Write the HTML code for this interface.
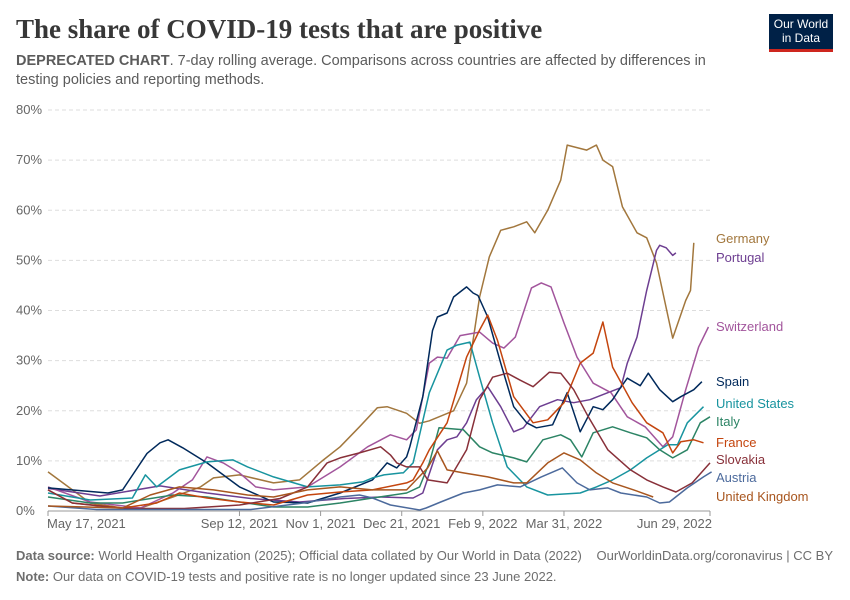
<!DOCTYPE html>
<html><head><meta charset="utf-8"><style>
body{margin:0;background:#fff;font-family:"Liberation Sans",sans-serif;}
#wrap{position:relative;width:850px;height:600px;overflow:hidden;}
.t{position:absolute;}
</style></head><body>
<div id="wrap">
<div class="t" style="left:16px;top:14px;font-family:'Liberation Serif',serif;font-size:27px;color:#373737;font-weight:bold;">The share of COVID-19 tests that are positive</div>
<div class="t" style="left:16px;top:52px;width:720px;font-size:14.5px;line-height:19px;color:#5b5b5b;"><b>DEPRECATED CHART</b>. 7-day rolling average. Comparisons across countries are affected by differences in testing policies and reporting methods.</div>
<div class="t" style="left:769px;top:14px;width:64px;height:38px;background:#002147;border-bottom:3px solid #ce261e;color:#fff;font-size:12px;line-height:14px;text-align:center;padding-top:3px;box-sizing:border-box;">Our World<br>in Data</div>
<svg id="chart" width="850" height="600" style="position:absolute;left:0;top:0"></svg>
<div class="t" style="left:16px;top:548px;font-size:13px;color:#6e6e6e;"><b>Data source:</b> World Health Organization (2025); Official data collated by Our World in Data (2022)</div>
<div class="t" style="right:17px;top:548px;font-size:13px;color:#6e6e6e;">OurWorldinData.org/coronavirus | CC BY</div>
<div class="t" style="left:16px;top:569px;font-size:13px;color:#6e6e6e;"><b>Note:</b> Our data on COVID-19 tests and positive rate is no longer updated since 23 June 2022.</div>
</div>
<script>
const yTicks=[0,10,20,30,40,50,60,70,80];
const xTickDays=[0,118,168,218,268,318,408];
const xTickLabels=["May 17, 2021","Sep 12, 2021","Nov 1, 2021","Dec 21, 2021","Feb 9, 2022","Mar 31, 2022","Jun 29, 2022"];
const countries=["Germany","Portugal","Switzerland","Spain","United States","Italy","France","Slovakia","Austria","United Kingdom"];
const colors=["#a2773d","#6d3e91","#a2559c","#00295b","#18949f","#2c8465","#c4450e","#883039","#4c6a9c","#a8561f"];
const labelY=[239,258,327,382,404,422,443,460,478,497];
const germanyDays=[0,26,46,57,77,94,102,118,139,155,169,180,192,203,209,221,229,235,250,258,266,272,279,287,295,300,308,316,320,332,338,342,348,354,363,369,375,385,393,396,398];
const germanyVals=[7.8,1.6,0.6,0.6,2.8,4.8,6.6,7.2,5.6,6.2,10,12.8,16.8,20.6,20.8,19.5,17.5,18,20,25.5,42.7,50.7,56,56.7,57.7,55.5,60,66,73,72,73,70,68.7,60.7,55.5,54.5,49.5,34.5,42,44,53.5];
const portugalDays=[0,32,69,98,125,155,183,205,225,231,240,246,252,258,264,271,279,287,293,303,314,324,334,345,353,357,363,369,375,377,381,385,387];
const portugalVals=[4.5,3,5,3.6,2.5,1.8,2.5,2.8,2.6,3.6,12.2,14.2,14.8,17.6,22.2,24.8,20.8,15.8,16.6,20.8,22.2,21.6,22.2,23.6,24.6,29.5,34.7,44,52,53,52.5,51,51.5];
const spainDays=[0,37,46,61,69,74,83,98,118,139,160,180,200,209,215,221,223,231,237,240,246,250,258,262,265,271,279,287,295,301,311,320,328,336,342,348,352,357,365,370,377,385,390,398,403];
const spainVals=[4.6,3.6,4.2,11.5,13.6,14.2,12.6,9.6,4.8,1.8,1.6,3.6,6.2,9.6,8.6,10.8,12.8,22.8,36,38.7,39.5,42.7,44.7,43.5,43,38.7,29.5,20.8,17.6,16.6,17.2,23.6,15.8,20.8,20.2,22.2,24.2,26.5,25,27.5,24.2,21.8,22.8,24.2,25.8];
const switzerlandDays=[0,26,57,77,89,98,108,118,128,139,160,180,197,211,221,227,235,240,246,254,266,274,281,288,298,304,310,318,326,336,347,357,368,379,385,393,401,407];
const switzerlandVals=[4.8,1.8,0.6,3.6,6.2,10.8,9.6,7.6,4.8,4.2,4.8,8.8,12.8,15.2,14.2,16.2,29.5,30.7,30.5,35,35.7,33.5,32.5,34.7,44.5,45.5,44.7,37.5,30.7,25.5,23.6,18.8,16.8,12.8,14.8,24.2,32.7,36.7];
const usDays=[0,26,52,60,67,81,98,114,123,139,160,180,194,200,207,218,219,225,235,246,252,260,266,274,283,295,308,328,338,348,359,369,382,388,394,404];
const usVals=[3.6,2.2,2.6,7.2,4.8,8.2,9.8,10.2,8.8,6.8,4.8,5.2,5.8,6.6,7.2,7.6,7.6,9.6,23.6,32.1,33.1,33.7,26.7,17.6,8.8,4.8,3.2,3.6,4.8,6.2,8.2,10.6,13.2,13.2,17.6,20.8];
const italyDays=[0,26,46,77,98,118,139,160,180,200,221,229,235,241,256,266,274,287,295,305,316,322,329,336,348,359,369,377,385,394,402,408];
const italyVals=[2.8,1.6,1.6,3.2,2.8,1.8,0.8,0.8,1.6,2.6,3.6,4.8,9.6,16.6,16.2,12.8,11.6,10.6,9.8,14.2,15.2,14.2,10.8,15.6,16.8,15.6,14.6,12.2,10.6,12.2,17.6,18.8];
const franceDays=[0,15,46,67,81,98,118,139,160,180,200,221,225,231,235,246,258,266,271,277,287,299,308,318,328,336,342,348,360,369,379,385,390,398,404];
const franceVals=[4.2,1.6,0.6,1.6,3.6,2.6,1.8,1.2,3.2,3.8,4.2,5.6,6.2,9.6,12.2,17.6,30.7,36.1,39.1,34.1,22.8,17.6,18.2,21.6,29.5,31.5,37.7,28.7,21.6,17.6,15.6,11.6,13.8,14.2,13.6];
const slovakiaDays=[0,15,46,84,118,143,160,172,180,192,205,211,215,221,229,234,246,258,266,274,283,291,299,309,316,324,333,345,359,369,379,387,397,408];
const slovakiaVals=[4.2,1.6,0.5,0.5,1.2,2.5,4.8,9.6,10.6,11.6,12.8,11.2,9.6,8.8,8.8,6.2,5.6,12.2,22.2,26.7,27.5,26.1,24.8,27.7,27.5,24.2,18.8,12.2,8.2,6.2,4.8,3.8,5.6,9.6];
const austriaDays=[0,30,77,125,155,180,192,200,211,229,233,242,256,266,277,291,304,317,326,334,345,353,369,377,383,394,404,409];
const austriaVals=[1,0.3,0.3,0.3,1.5,2.8,3.2,2.6,1.2,0.2,0.6,1.8,3.6,4.2,5.2,4.8,6.8,8.6,5.6,4.2,4.6,3.6,2.8,1.6,1.8,4.6,6.8,7.8];
const ukDays=[0,46,63,81,102,123,139,160,180,200,221,234,240,246,256,271,287,295,308,318,328,338,348,361,373];
const ukVals=[1,0.6,3.2,4.8,4.2,3.2,2.8,4.2,4.8,4.2,4.2,8.6,12,8.2,7.6,6.8,5.6,5.6,9.6,11.6,10.2,7.6,5.6,4.2,2.8];
const seriesDays=[germanyDays,portugalDays,switzerlandDays,spainDays,usDays,italyDays,franceDays,slovakiaDays,austriaDays,ukDays];
const seriesVals=[germanyVals,portugalVals,switzerlandVals,spainVals,usVals,italyVals,franceVals,slovakiaVals,austriaVals,ukVals];

const X0=48,X1=710,DMAX=408,Y0=511,Y1=110,VMAX=80;
const xs=d=>X0+d*(X1-X0)/DMAX;
const ys=v=>Y0-v*(Y0-Y1)/VMAX;
const svg=document.getElementById('chart');
const NS="http://www.w3.org/2000/svg";
function mk(tag,attrs){const e=document.createElementNS(NS,tag);for(const k in attrs)e.setAttribute(k,attrs[k]);svg.appendChild(e);return e;}
yTicks.forEach(v=>{
  const g=mk('line',{x1:X0,x2:X1,y1:ys(v),y2:ys(v),stroke:v===0?'#999':'#ddd','stroke-dasharray':v===0?'':'4,3','stroke-width':1});
  
  
  const t=mk('text',{x:16,y:ys(v)+4,'font-size':13,fill:'#666','font-family':'Liberation Sans, sans-serif'});
  t.textContent=v+'%';
  
  
});
xTickDays.forEach((d,i)=>{
  const tk=mk('line',{x1:xs(d),x2:xs(d),y1:Y0,y2:Y0+5,stroke:'#999'});
  
  
  const anchor=i===0?'start':(i===xTickDays.length-1?'end':'middle');
  const t=mk('text',{x:i===0?xs(d)-1:(i===xTickDays.length-1?xs(d)+2:xs(d)),y:528,'font-size':13,fill:'#666','text-anchor':anchor,'font-family':'Liberation Sans, sans-serif'});
  t.textContent=xTickLabels[i];
  
  
});
countries.forEach((c,i)=>{
  const dd=seriesDays[i],vv=seriesVals[i];
  const n=Math.min(dd.length,vv.length);
  let p='';
  for(let j=0;j<n;j++)p+=(j?'L':'M')+xs(dd[j]).toFixed(1)+','+ys(vv[j]).toFixed(1);
  const l=mk('path',{d:p,fill:'none',stroke:colors[i],'stroke-width':1.5,'stroke-linejoin':'round'});
  
  
  const t=mk('text',{x:716,y:labelY[i]+4,'font-size':13,fill:colors[i],'font-family':'Liberation Sans, sans-serif'});
  t.textContent=c;
  
  
});
</script>
</body></html>
